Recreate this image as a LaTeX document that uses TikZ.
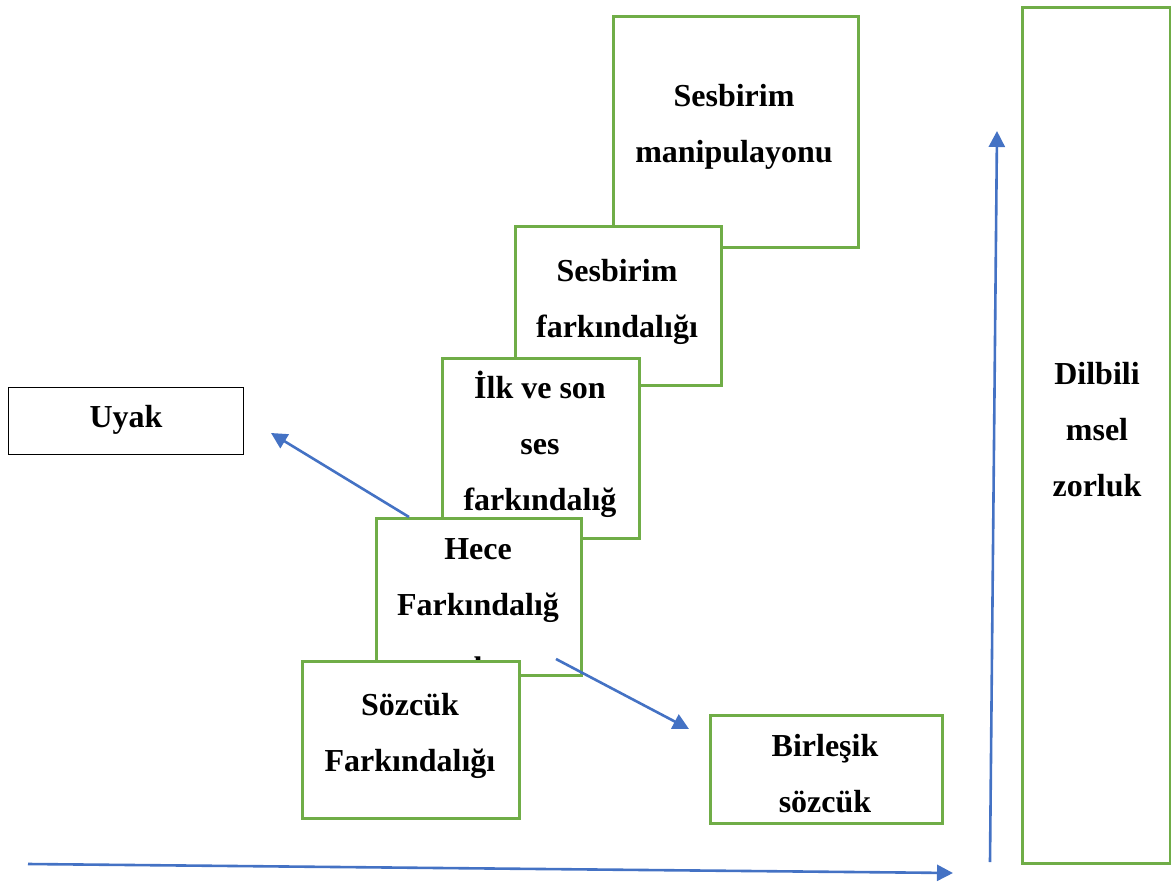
\documentclass[tikz,border=0pt]{standalone}
\usepackage{fontspec}
\setmainfont{Liberation Serif}
\usetikzlibrary{arrows.meta}
\definecolor{gr}{HTML}{70AD47}
\definecolor{bl}{HTML}{4472C4}
\begin{document}
\begin{tikzpicture}[x=1pt,y=-1pt,
  gbox/.style={draw=gr, line width=2.6pt, fill=white, inner sep=0pt, anchor=north west},
  kbox/.style={draw=black, line width=1pt, fill=white, inner sep=0pt, anchor=north west},
  lbl/.style={font=\bfseries\fontsize{32}{56}\selectfont, align=center, anchor=base, inner sep=0pt},
  arr/.style={draw=bl, line width=2.6pt, -{Triangle[length=16pt,width=16pt]}}]
\useasboundingbox (0,0) rectangle (1171,884);
% stacked boxes, back to front (text anchor = baseline of last line)
\node[gbox, minimum width=245pt, minimum height=231pt] (sm) at (612,15) {};
\node[lbl] (smt) at (734,162) {Sesbirim\\manipulayonu};
\node[gbox, minimum width=206pt, minimum height=159pt] (sf) at (514,225) {};
\node[lbl] (sft) at (617,337) {Sesbirim\\farkındalığı};
\node[gbox, minimum width=197pt, minimum height=180pt] (ilk) at (441,357) {};
\node[lbl] (ilkt) at (540,510) {İlk ve son\\ses\\farkındalığ};
\node[gbox, minimum width=205pt, minimum height=157pt] (hece) at (375,517) {};
\node[lbl] (hecet) at (478,671) {Hece\\Farkındalığ\\ı};
\node[gbox, minimum width=217pt, minimum height=157pt] (soz) at (301,660) {};
\node[lbl] (sozt) at (410,771) {Sözcük\\Farkındalığı};
% side boxes
\node[kbox, minimum width=235pt, minimum height=67pt] (uyak) at (8,387) {};
\node[lbl] (uyakt) at (126,427) {Uyak};
\node[gbox, minimum width=232pt, minimum height=108pt] (bir) at (709,714) {};
\node[lbl] (birt) at (825,812) {Birleşik\\sözcük};
\node[gbox, minimum width=148pt, minimum height=856pt] (dil) at (1021,6) {};
\node[lbl] (dilt) at (1097,496) {Dilbili\\msel\\zorluk};
% arrows
\coordinate (h0) at (28,864);
\coordinate (h1) at (953,873);
\coordinate (v0) at (990,862);
\coordinate (v1) at (997,131);
\coordinate (u0) at (409,517);
\coordinate (u1) at (271,433);
\coordinate (b0) at (556,659);
\coordinate (b1) at (689,729);
\draw[arr] (h0) -- (h1);
\draw[arr] (v0) -- (v1);
\draw[arr] (u0) -- (u1);
\draw[arr] (b0) -- (b1);
\end{tikzpicture}
\end{document}
